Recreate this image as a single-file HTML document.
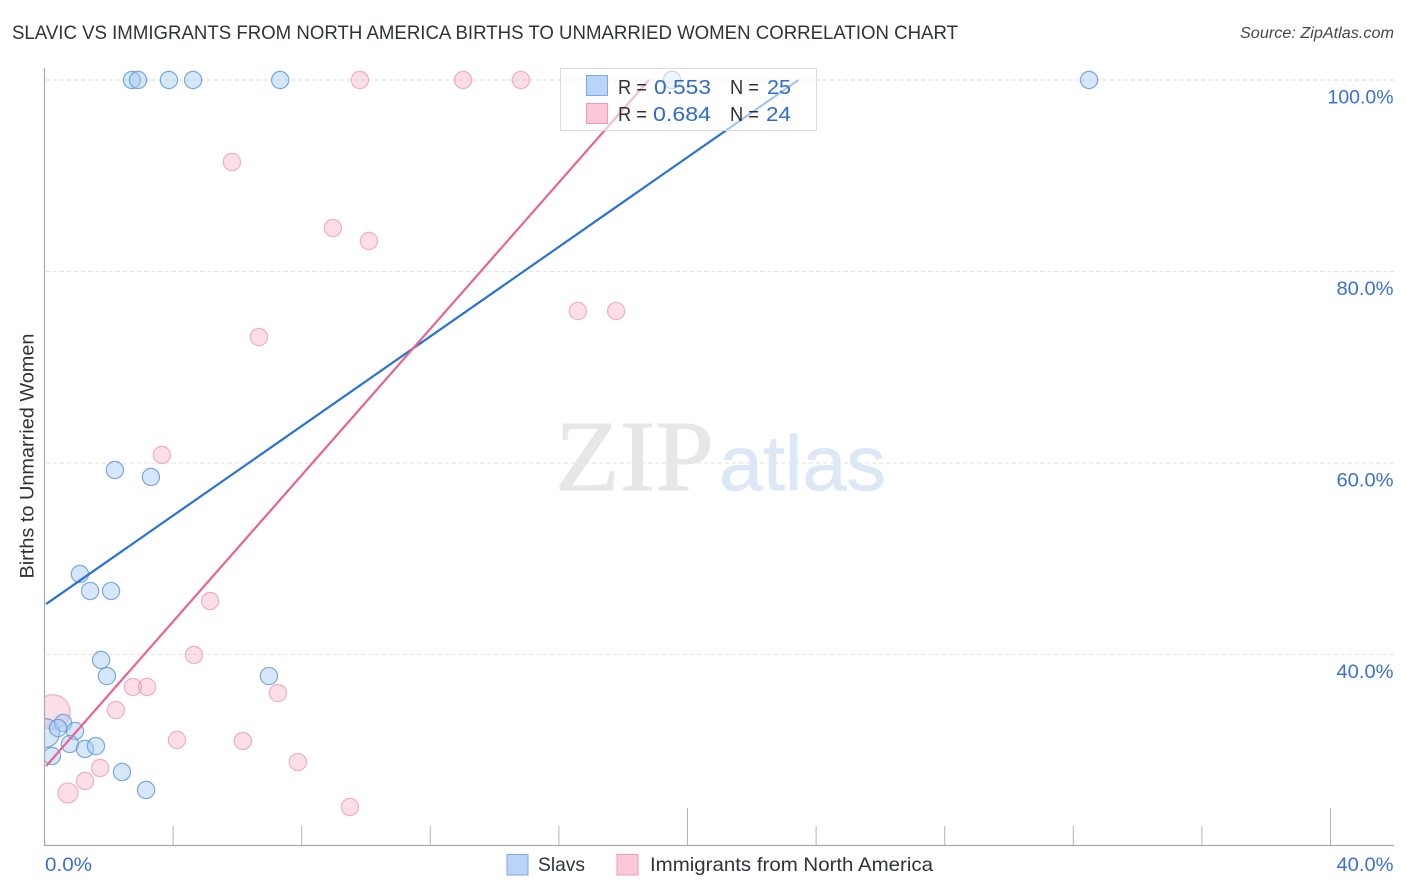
<!DOCTYPE html>
<html lang="en">
<head>
<meta charset="utf-8">
<title>Slavic vs Immigrants from North America Births to Unmarried Women Correlation Chart</title>
<style>
html,body{margin:0;padding:0;background:#fff;}
body{width:1406px;height:892px;overflow:hidden;}
svg{display:block;font-family:"Liberation Sans",sans-serif;}
</style>
</head>
<body>
<svg id="chart" xmlns="http://www.w3.org/2000/svg" width="1406" height="892" viewBox="0 0 1406 892">
  <rect x="0" y="0" width="1406" height="892" fill="#ffffff"></rect>
  <text x="12" y="39" font-size="19.5" fill="#2f3338" textLength="946" lengthAdjust="spacingAndGlyphs">SLAVIC VS IMMIGRANTS FROM NORTH AMERICA BIRTHS TO UNMARRIED WOMEN CORRELATION CHART</text>
  <text x="1394" y="38" font-size="15.5" font-style="italic" fill="#44484d" text-anchor="end" textLength="154" lengthAdjust="spacingAndGlyphs">Source: ZipAtlas.com</text>
  <g id="grid"></g>
  <g>
    <text x="555" y="490" font-family="'Liberation Serif',serif" font-size="101" fill="#e7e7e7" stroke="#e7e7e7" stroke-width="1" textLength="159" lengthAdjust="spacingAndGlyphs">ZIP</text>
    <text x="719" y="490" font-size="78" fill="#dde8f7" stroke="#dde8f7" stroke-width="0.6" textLength="167" lengthAdjust="spacingAndGlyphs">atlas</text>
  </g>
  <g id="ticks"></g>
  <g id="y-labels"></g>
  <g id="x-labels"></g>
  <text transform="translate(33.5,456) rotate(-90)" font-size="19" fill="#2f3338" text-anchor="middle" textLength="245" lengthAdjust="spacingAndGlyphs">Births to Unmarried Women</text>
  <g id="points"></g>
  <rect x="0" y="680" width="44.5" height="90" fill="#ffffff"></rect>
  <g id="axes">
    <line x1="44.5" y1="68" x2="44.5" y2="846" stroke="#aaaaaa" stroke-width="1.2"></line>
    <line x1="44" y1="845.5" x2="1394" y2="845.5" stroke="#aaaaaa" stroke-width="1.2"></line>
  </g>
  <g id="lines"></g>

  <g>
    <rect x="560.5" y="68.5" width="256" height="62" fill="#ffffff" fill-opacity="0.58" stroke="#dcdcdc" stroke-width="1"></rect>
    <rect x="586.5" y="75.5" width="21" height="20" fill="#b9d4f7" stroke="#7ea9e2" stroke-width="1"></rect>
    <rect x="586.5" y="103.5" width="21" height="20" fill="#fbc8d9" stroke="#f09ab8" stroke-width="1"></rect>
    <text x="618" y="94" font-size="20" fill="#2f3338" textLength="29" lengthAdjust="spacingAndGlyphs">R =</text>
    <text x="654" y="94" font-size="20" fill="#2f6cc9" textLength="57" lengthAdjust="spacingAndGlyphs">0.553</text>
    <text x="730" y="94" font-size="20" fill="#2f3338" textLength="29" lengthAdjust="spacingAndGlyphs">N =</text>
    <text x="767" y="94" font-size="20" fill="#2f6cc9" textLength="24" lengthAdjust="spacingAndGlyphs">25</text>
    <text x="618" y="121" font-size="20" fill="#2f3338" textLength="29" lengthAdjust="spacingAndGlyphs">R =</text>
    <text x="653" y="121" font-size="20" fill="#2f6cc9" textLength="58" lengthAdjust="spacingAndGlyphs">0.684</text>
    <text x="730" y="121" font-size="20" fill="#2f3338" textLength="29" lengthAdjust="spacingAndGlyphs">N =</text>
    <text x="766" y="121" font-size="20" fill="#2f6cc9" textLength="25" lengthAdjust="spacingAndGlyphs">24</text>
  </g>

  <g>
    <g>
      <rect x="507" y="854.5" width="21" height="20.5" fill="#b9d4f7" stroke="#7ea9e2" stroke-width="1"></rect>
      <text x="538" y="871" font-size="19.5" fill="#2f3338" textLength="47" lengthAdjust="spacingAndGlyphs">Slavs</text>
    </g>
    <g>
      <rect x="617" y="854.5" width="21" height="20.5" fill="#fbc8d9" stroke="#f09ab8" stroke-width="1"></rect>
      <text x="650" y="871" font-size="19.5" fill="#2f3338" textLength="283" lengthAdjust="spacingAndGlyphs">Immigrants from North America</text>
    </g>
  </g>
</svg>
<script>
const slavX = [2.72, 2.91, 3.87, 4.62, 7.33, 19.52, 32.49, 2.19, 3.31, 1.10, 1.42, 2.07, 1.76, 1.94, 6.98, 0.02, 0.58, 0.42, 0.95, 0.79, 1.26, 1.60, 0.23, 2.41, 3.16];
const slavY = [100, 100, 100, 100, 100, 100, 100, 59.27, 58.54, 48.41, 46.63, 46.63, 39.43, 37.75, 37.75, 31.8, 32.85, 32.32, 32.01, 30.65, 30.13, 30.44, 29.4, 27.73, 25.85];
const slavWeight = [1, 1, 1, 1, 1, 1, 1, 1, 1, 1, 1, 1, 1, 1, 1, 2.8, 1, 1, 1, 1, 1, 1, 1, 1, 1];

const immigrantX = [9.81, 13.02, 14.82, 5.83, 8.97, 10.09, 16.59, 17.78, 6.67, 3.65, 5.15, 4.65, 2.75, 3.19, 7.26, 2.22, 4.12, 6.17, 0.26, 1.73, 1.26, 0.73, 7.88, 9.5];
const immigrantY = [100, 100, 100, 91.44, 84.54, 83.19, 75.87, 75.87, 73.16, 60.84, 45.59, 39.95, 36.61, 36.61, 35.98, 34.2, 31.07, 30.97, 34.0, 28.15, 26.79, 25.54, 28.77, 24.07];
const immigrantWeight = [1, 1, 1, 1, 1, 1, 1, 1, 1, 1, 1, 1, 1, 1, 1, 1, 1, 1, 4, 1, 1, 1.36, 1, 1];

const slavTrendX = [0.05, 23.45];
const slavTrendY = [45.27, 100];
const immigrantTrendX = [0.05, 18.8];
const immigrantTrendY = [28.35, 100];

const yTicks = [100, 80, 60, 40];
const yTickLabels = ['100.0%', '80.0%', '60.0%', '40.0%'];
const xTicks = [4, 8, 12, 16, 20, 24, 28, 32, 36, 40];
const xMajorTicks = [20, 40];
const xLabelValues = [0, 40];
const xTickLabels = ['0.0%', '40.0%'];

const NS = 'http://www.w3.org/2000/svg';
function xScale(v) { return 44.5 + v * 32.15; }
function yScale(v) { return 80 + (100 - v) * 9.575; }
function rScale(w) { return 8.6 * Math.sqrt(w); }
function labelWidth(s) { return s.length === 4 ? 47 : s.length === 5 ? 57 : 66; }
function make(tag, attrs, parent) {
  const el = document.createElementNS(NS, tag);
  for (const k in attrs) el.setAttribute(k, attrs[k]);
  parent.appendChild(el);
  return el;
}

const gridG = document.getElementById('grid');
yTicks.forEach(function (t) {
  const g = make('line', { x1: 46, x2: 1394, y1: yScale(t), y2: yScale(t), stroke: t === 100 ? '#d6d6d6' : '#e2e2e2', 'stroke-width': 1, 'stroke-dasharray': '4 3' }, gridG);
  
  
});

const tickG = document.getElementById('ticks');
xTicks.forEach(function (t) {
  const top = xMajorTicks.indexOf(t) >= 0 ? 808 : 826;
  const m = make('line', { x1: xScale(t), x2: xScale(t), y1: top, y2: 845, stroke: '#b4b4b4', 'stroke-width': 1 }, tickG);
  
  
});

const yLabelG = document.getElementById('y-labels');
yTicks.forEach(function (t, i) {
  const l = make('text', { x: 1393.5, y: yScale(t) + 23.5, 'text-anchor': 'end', 'font-size': 19.5, fill: '#3b70d2', textLength: labelWidth(yTickLabels[i]), lengthAdjust: 'spacingAndGlyphs' }, yLabelG);
  l.textContent = yTickLabels[i];
  
  
});

const xLabelG = document.getElementById('x-labels');
xLabelValues.forEach(function (t, i) {
  const anchorEnd = i === xLabelValues.length - 1;
  const l = make('text', { x: anchorEnd ? 1393.5 : xScale(t) + 0.5, y: 871, 'text-anchor': anchorEnd ? 'end' : 'start', 'font-size': 19.5, fill: '#3b70d2', textLength: labelWidth(xTickLabels[i]), lengthAdjust: 'spacingAndGlyphs' }, xLabelG);
  l.textContent = xTickLabels[i];
  
  
});

const pointG = document.getElementById('points');
immigrantX.forEach(function (v, i) {
  const c = make('circle', { cx: xScale(v), cy: yScale(immigrantY[i]), r: rScale(immigrantWeight[i]), fill: '#f7a8c2', 'fill-opacity': 0.38, stroke: '#ec9db8', 'stroke-opacity': 0.8, 'stroke-width': 1.2 }, pointG);
  
  
});
slavX.forEach(function (v, i) {
  const c = make('circle', { cx: xScale(v), cy: yScale(slavY[i]), r: rScale(slavWeight[i]), fill: '#a4c9f5', 'fill-opacity': 0.45, stroke: '#5c93dc', 'stroke-opacity': 0.8, 'stroke-width': 1.2 }, pointG);
  
  
});

const lineG = document.getElementById('lines');
const slavLine = make('line', { x1: xScale(slavTrendX[0]), y1: yScale(slavTrendY[0]), x2: xScale(slavTrendX[1]), y2: yScale(slavTrendY[1]), stroke: '#2a72d6', 'stroke-width': 2.2 }, lineG);


const immigrantLine = make('line', { x1: xScale(immigrantTrendX[0]), y1: yScale(immigrantTrendY[0]), x2: xScale(immigrantTrendX[1]), y2: yScale(immigrantTrendY[1]), stroke: '#e8648f', 'stroke-width': 2.2 }, lineG);


</script>
</body>
</html>
